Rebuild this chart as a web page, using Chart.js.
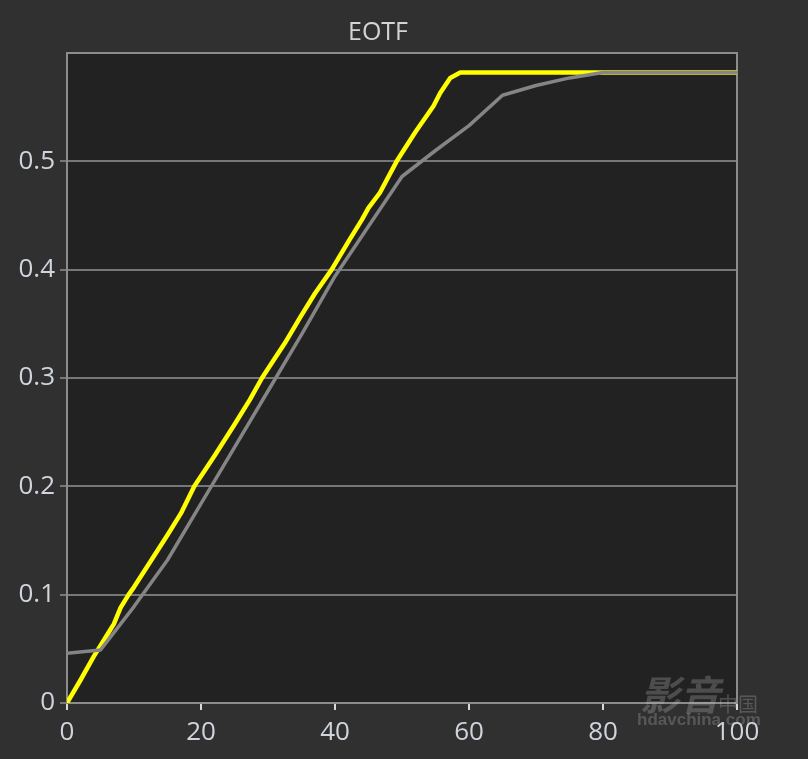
<!DOCTYPE html>
<html>
<head>
<meta charset="utf-8">
<script src="https://cdn.jsdelivr.net/npm/chart.js@4/dist/chart.umd.min.js"></script>
<style>
  html, body { margin: 0; padding: 0; background: #303030; }
  #wrap { width: 808px; height: 759px; position: relative; }
</style>
</head>
<body>
<div id="wrap"><canvas id="c" width="808" height="759"></canvas></div>
<script>
// ---- data ----
const chartTitle = "EOTF";
const xTickValues = [0, 20, 40, 60, 80, 100];
const yTickValues = [0, 0.1, 0.2, 0.3, 0.4, 0.5];

// target (gray) curve
const targetX = [0, 5, 10, 15, 20, 25, 30, 35, 40, 45, 50, 55, 60, 65, 70, 75, 80, 90, 100];
const targetY = [0.046, 0.049, 0.089, 0.132, 0.184, 0.236, 0.288, 0.340, 0.394, 0.440, 0.486, 0.510, 0.533, 0.561, 0.570, 0.577, 0.582, 0.582, 0.582];

// measured (yellow) curve
const measuredX = [0, 2, 4, 6, 7, 8, 9.2, 10, 12.6, 15, 17, 19, 22, 25, 27.3, 29.1, 31, 32.5, 34.8, 37, 39.5, 42.2, 44, 45, 46.7, 49.2, 52, 54.7, 55.7, 57.2, 58.7, 70, 80, 90, 100];
const measuredY = [0, 0.021, 0.043, 0.063, 0.073, 0.088, 0.100, 0.107, 0.132, 0.155, 0.175, 0.200, 0.228, 0.257, 0.280, 0.300, 0.318, 0.332, 0.356, 0.378, 0.400, 0.428, 0.446, 0.457, 0.471, 0.500, 0.527, 0.551, 0.563, 0.577, 0.582, 0.582, 0.582, 0.582, 0.582];

const watermarkBig = "影音";
const watermarkSmall = "中国";
const watermarkUrl = "hdavchina.com";

// ---- build ----
const toPts = (xs, ys) => xs.map((x, i) => ({ x: x, y: ys[i] }));
const FONT = '"Open Sans", "Noto Sans", sans-serif';

const frame = {
  id: 'frame',
  beforeDraw(chart) {
    const { ctx, chartArea: a } = chart;
    ctx.save();
    ctx.fillStyle = '#303030';
    ctx.fillRect(0, 0, chart.width, chart.height);
    ctx.fillStyle = '#222222';
    ctx.fillRect(a.left, a.top, a.right - a.left, a.bottom - a.top);
    ctx.restore();
  },
  beforeDatasetsDraw(chart) {
    const { ctx, chartArea: a } = chart;
    ctx.save();
    ctx.strokeStyle = '#8c8c8c';
    ctx.lineWidth = 2;
    ctx.strokeRect(a.left, a.top, a.right - a.left, a.bottom - a.top);
    ctx.restore();
  },
  afterDraw(chart) {
    const { ctx } = chart;
    ctx.save();
    ctx.fillStyle = '#d4d4d4';
    ctx.font = '25px ' + FONT;
    ctx.textAlign = 'center';
    ctx.textBaseline = 'middle';
    ctx.fillText(chartTitle, 378, 33);
    // watermark
    ctx.globalAlpha = 0.28;
    ctx.fillStyle = '#bdbdbd';
    ctx.font = 'italic bold 40px "Noto Sans CJK SC", sans-serif';
    ctx.textAlign = 'left';
    ctx.textBaseline = 'alphabetic';
    ctx.fillText(watermarkBig, 640, 710);
    ctx.font = '20px "Noto Sans CJK SC", sans-serif';
    ctx.fillText(watermarkSmall, 718, 712);
    ctx.font = 'bold 17px "Liberation Sans", sans-serif';
    ctx.fillText(watermarkUrl, 637, 725);
    ctx.restore();
  }
};

new Chart(document.getElementById('c'), {
  type: 'line',
  data: {
    datasets: [
      {
        label: 'Target',
        data: toPts(targetX, targetY),
        borderColor: '#858585',
        borderWidth: 3.5,
        pointRadius: 0,
        tension: 0,
        borderJoinStyle: 'round',
        borderCapStyle: 'round',
        order: 0
      },
      {
        label: 'Measured',
        data: toPts(measuredX, measuredY),
        borderColor: '#ffff00',
        borderWidth: 4.5,
        pointRadius: 0,
        tension: 0,
        borderJoinStyle: 'round',
        borderCapStyle: 'round',
        order: 1
      }
    ]
  },
  options: {
    responsive: false,
    animation: false,
    devicePixelRatio: 1,
    layout: { padding: { top: 53, right: 71, left: 0, bottom: 0 } },
    plugins: {
      legend: { display: false },
      title: { display: false },
      tooltip: { enabled: false }
    },
    scales: {
      x: {
        type: 'linear',
        min: 0,
        max: 100,
        afterBuildTicks: s => { s.ticks = xTickValues.map(v => ({ value: v })); },
        afterFit: s => { s.height = 56; },
        border: { display: false },
        grid: {
          drawOnChartArea: false,
          drawTicks: true,
          tickLength: 7,
          color: '#d8d8d8',
          lineWidth: 2
        },
        ticks: {
          color: '#d0d4dc',
          padding: 7,
          maxRotation: 0,
          font: { family: FONT, size: 26 }
        }
      },
      y: {
        min: 0,
        max: 0.6,
        afterBuildTicks: s => { s.ticks = yTickValues.map(v => ({ value: v })); },
        afterFit: s => { s.width = 67; },
        border: { display: false },
        grid: {
          color: '#777777',
          lineWidth: 2,
          drawTicks: true,
          tickLength: 7
        },
        ticks: {
          color: '#d0d4dc',
          padding: 5,
          callback: v => String(Math.round(v * 10) / 10),
          font: { family: FONT, size: 26 }
        }
      }
    }
  },
  plugins: [frame]
});
</script>
</body>
</html>
